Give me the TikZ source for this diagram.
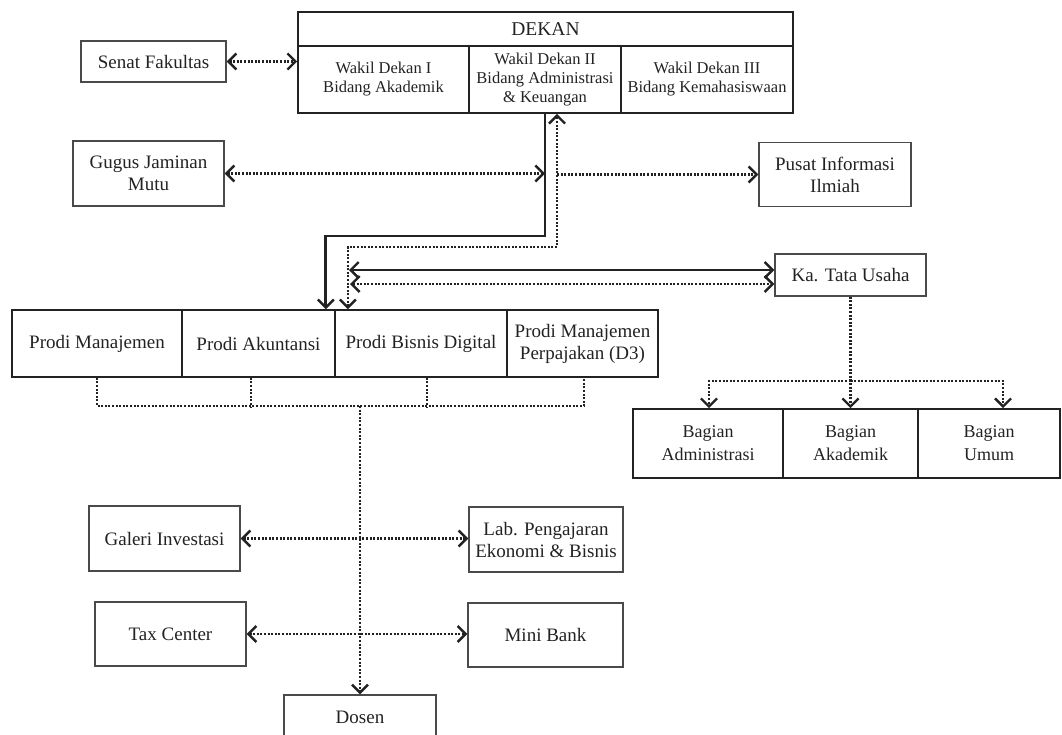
\documentclass[tikz,border=0pt]{standalone}
\usepackage{fontspec}
\setmainfont{Liberation Serif}
\usetikzlibrary{arrows.meta,calc}
\definecolor{ink}{HTML}{222222}
\definecolor{frame}{HTML}{4a4a4a}
\begin{document}
\begin{tikzpicture}[x=1pt,y=-1pt,
  box/.style={draw=frame,line width=1.3pt,inner sep=0pt,align=center,text=ink,
    font=\fontsize{19}{22}\selectfont},
  tbox/.style={box,draw=ink,line width=1.7pt},
  small/.style={font=\fontsize{16.5}{19}\selectfont},
  bag/.style={font=\fontsize{18}{23}\selectfont},
  dot/.style={draw=ink,line width=2.1pt,dash pattern=on 2pt off 1.6pt},
  heavy/.style={draw=ink,line width=2.8pt},
  >={Straight Barb[length=8pt,width=16pt,line width=2.4pt]}]
\useasboundingbox (0,0) rectangle (1062,734);
\clip (0,0) rectangle (1062,734);

% top
\node[tbox,minimum width=495pt,minimum height=34pt,font=\fontsize{19.5}{22}\selectfont] (dekan) at (545.5,29) {DEKAN};
\node[tbox,small,minimum width=171pt,minimum height=67pt] (wd1) at (383.5,79.5) {Wakil Dekan I\\Bidang Akademik};
\node[tbox,small,minimum width=152pt,minimum height=67pt] (wd2) at (545,79.5) {Wakil Dekan II\\Bidang Administrasi\\\& Keuangan};
\node[tbox,small,minimum width=172pt,minimum height=67pt] (wd3) at (707,79.5) {Wakil Dekan III\\Bidang Kemahasiswaan};

\node[box,minimum width=145pt,minimum height=41pt] (senat) at (153.5,61.5) {Senat Fakultas};
\node[box,minimum width=151pt,minimum height=65pt] (gugus) at (148.5,173.5) {Gugus Jaminan\\Mutu};
\node[box,minimum width=152pt,minimum height=64pt] (pusat) at (835,174.5) {Pusat Informasi\\Ilmiah};
\node[box,minimum width=151pt,minimum height=42pt] (katu) at (850.5,275) {Ka. Tata Usaha};

% prodi
\node[tbox,minimum width=170pt,minimum height=67pt] (pm) at (97,343.5) {Prodi Manajemen};
\node[tbox,minimum width=153pt,minimum height=67pt] (pa) at (258.5,343.5) {Prodi Akuntansi};
\node[tbox,minimum width=172pt,minimum height=67pt] (pb) at (421,343.5) {Prodi Bisnis Digital};
\node[tbox,minimum width=151pt,minimum height=67pt] (pp) at (582.5,343.5) {Prodi Manajemen\\Perpajakan (D3)};

% bagian
\node[tbox,bag,minimum width=150pt,minimum height=69pt] (ba) at (708,443.5) {Bagian\\Administrasi};
\node[tbox,bag,minimum width=135pt,minimum height=69pt] (bk) at (850.5,443.5) {Bagian\\Akademik};
\node[tbox,bag,minimum width=142pt,minimum height=69pt] (bu) at (989,443.5) {Bagian\\Umum};

% lower
\node[box,minimum width=151pt,minimum height=65pt] (galeri) at (164.5,538.5) {Galeri Investasi};
\node[box,minimum width=154pt,minimum height=65pt] (lab) at (546,539.5) {Lab. Pengajaran\\Ekonomi \& Bisnis};
\node[box,minimum width=155pt,minimum height=64pt] (mini) at (545.5,635) {Mini Bank};
\node[box,minimum width=151pt,minimum height=64pt] (tax) at (170.5,634) {Tax Center};
\node[box,minimum width=152pt,minimum height=52pt,text depth=0pt] (dosen) at (360,721) {\raisebox{8pt}{Dosen}};

% connectors top
\draw[dot,<->] (senat.east) -- (senat.east -| wd1.west);
\coordinate (j1) at (545,236);
\draw[heavy,->] (wd2.south) -- (j1) -| ([xshift=-10pt]pa.north east);
\coordinate (dv) at ([xshift=12pt]wd2.south);
\coordinate (j2) at (557,247);
\draw[dot,<->] ([xshift=12pt]pa.north east) |- (j2) -- (dv);
\draw[dot,<->] (gugus.east) -- (gugus.east -| wd2.south);
\draw[dot,->] (dv |- pusat.west) -- (pusat.west);

\coordinate (t1) at (349,270);
\coordinate (t2) at (350,284);
\draw[heavy,<->] (t1) -- (t1 -| katu.west);
\draw[dot,<->] (t2) -- (t2 -| katu.west);

% ka tu to bagian
\draw[dot,->] (katu.south) -- (katu.south |- bk.north);
\draw[dot,->] (katu.south |- 0,381) -| ([xshift=1pt]ba.north);
\draw[dot,->] (katu.south |- 0,381) -| ([xshift=14pt]bu.north);

% prodi bracket
\draw[dot] (pm.south) -- (pm.south |- 0,406) -| ([xshift=1.5pt]pp.south);
\draw[dot] ([xshift=-7.5pt]pa.south) -- ++(0,29);
\draw[dot] ([xshift=6pt]pb.south) -- ++(0,29);
\draw[dot,->] (dosen.north |- 0,406) -- (dosen.north);

\draw[dot,<->] (galeri.east) -- (galeri.east -| lab.west);
\draw[dot,<->] (tax.east) -- (tax.east -| mini.west);
\end{tikzpicture}
\end{document}
